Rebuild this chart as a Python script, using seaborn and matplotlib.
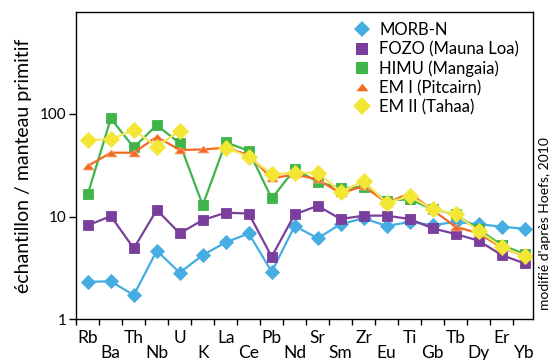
import numpy as np
import pandas as pd
import matplotlib
matplotlib.use("Agg")
import matplotlib.pyplot as plt
from matplotlib.lines import Line2D
import seaborn as sns

elements = ["Rb", "Ba", "Th", "Nb", "U", "K", "La", "Ce", "Pb", "Nd",
            "Sr", "Sm", "Zr", "Eu", "Ti", "Gb", "Tb", "Dy", "Er", "Yb"]

morb_n = [2.32, 2.34, 1.72, 4.65, 2.84, 4.22, 5.6, 6.86, 2.9, 8.1,
          6.14, 8.45, 9.6, 8.1, 8.84, 8.26, 8.84, 8.45, 7.96, 7.6]
fozo = [8.2, 10.1, 4.9, 11.6, 6.86, 9.25, 10.9, 10.7, 4.06, 10.5,
        12.7, 9.46, 10.2, 10.2, 9.46, 7.68, 6.76, 5.82, 4.22, 3.5]
himu = [16.5, 90.0, 47.0, 77.6, 51.5, 12.9, 52.7, 43.7, 15.0, 28.8,
        21.8, 18.8, 19.5, 14.3, 14.7, 11.8, 10.5, 7.5, 5.28, 4.32]
em1 = [31.0, 41.8, 41.8, 59.7, 44.4, 45.0, 46.7, 39.7, 23.5, 25.7,
       23.0, 16.8, 19.8, 13.6, 16.8, 11.6, 7.96, 6.86, 5.0, 4.13]
em2 = [55.5, 56.4, 69.4, 47.8, 68.4, np.nan, 46.7, 38.2, 25.8, 26.7,
       26.7, 17.4, 22.1, 13.6, 15.8, 11.8, 10.6, 7.23, 5.08, 4.13]

series_names = ["MORB-N", "FOZO (Mauna Loa)", "HIMU (Mangaia)",
                "EM I (Pitcairn)", "EM II (Tahaa)"]
series_values = [morb_n, fozo, himu, em1, em2]
colors = ["#45ADE2", "#7A3F9C", "#3FB549", "#F26A22", "#F4E634"]
line_colors = ["#45ADE2", "#7A3F9C", "#3FB549", "#F26A22", "#F2E85A"]
flat_tri = [(0, 0.62), (-1, -0.62), (1, -0.62), (0, 0.62)]
markers = ["D", "s", "s", flat_tri, "D"]
msizes = [7.4, 7.6, 7.6, 8.0, 7.9]

font = ["Lato", "DejaVu Sans"]
plt.rcParams["font.family"] = font

fig = plt.figure(figsize=(5.53, 3.60), dpi=100)
ax = fig.add_axes([0.138, 0.113, 0.826, 0.854])

x = np.arange(len(elements))
for name, vals, c, lc, m, ms in zip(series_names, series_values, colors,
                                     line_colors, markers, msizes):
    vals = np.asarray(vals, dtype=float)
    # split into continuous segments so gaps are kept
    seg = np.cumsum(np.isnan(vals))
    df = pd.DataFrame({"x": x, "y": vals, "seg": seg}).dropna()
    sns.lineplot(data=df, x="x", y="y", units="seg", estimator=None,
                 sort=False, ax=ax, color=lc, linewidth=1.6,
                 marker=m, markersize=ms, markerfacecolor=c,
                 markeredgecolor=c if m != flat_tri else "#F7A57A",
                 markeredgewidth=0.6, legend=False)

ax.set_yscale("log")
ax.set_ylim(1, 980)
ax.set_xlim(-0.5, 19.37)
ax.set_yticks([1, 10, 100])
ax.set_yticklabels(["1", "10", "100"], fontsize=11)
ax.yaxis.set_minor_locator(matplotlib.ticker.NullLocator())

ax.set_xticks(np.arange(-0.5, 19, 1.0))
ax.set_xticklabels([])
ax.tick_params(axis="x", direction="out", length=4, width=1, color="black")
ax.tick_params(axis="y", direction="out", length=5, width=1, color="black", pad=2)
for i, el in enumerate(elements):
    yoff = -0.062 if i % 2 == 0 else -0.108
    ax.text(i, yoff, el, transform=ax.get_xaxis_transform(),
            ha="center", va="center", fontsize=12.5, family=font)

for sp in ax.spines.values():
    sp.set_color("black")
    sp.set_linewidth(1.0)

ax.set_xlabel("")
ax.set_ylabel("échantillon / manteau primitif", fontsize=14, labelpad=6)

handles = [Line2D([0], [0], linestyle="none", marker=m, color=c,
                  markersize=ms * 1.1, markeredgewidth=0)
           for c, m, ms in zip(colors, markers, msizes)]
leg = ax.legend(handles, series_names, loc="upper left",
                bbox_to_anchor=(0.59, 0.988), frameon=False,
                fontsize=12, handletextpad=0.4, labelspacing=0.18,
                handlelength=1.2, borderaxespad=0)

fig.text(0.985, 0.38, "modifié d'après Hoefs, 2010", rotation=90,
         ha="center", va="center", fontsize=10)

fig.savefig("out.png", dpi=100)
